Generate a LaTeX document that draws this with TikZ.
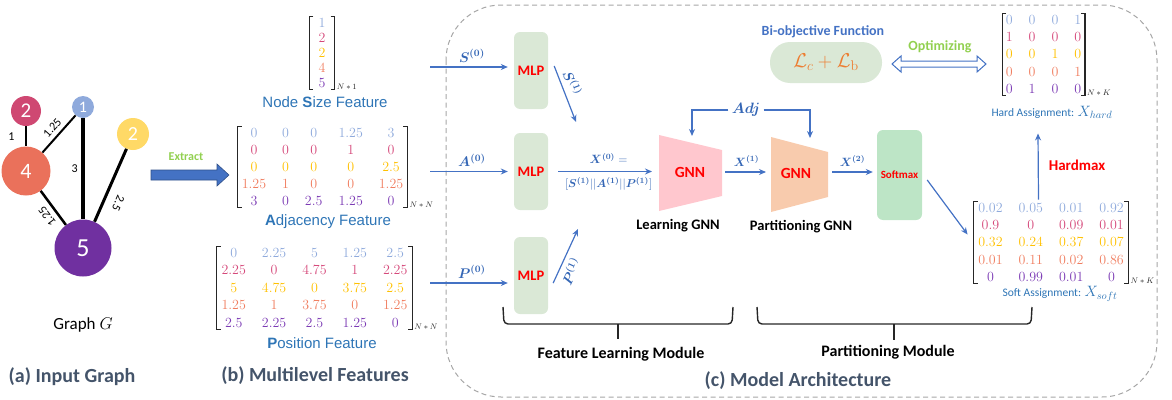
\RequirePackage{fix-cm}
\documentclass[tikz,border=0pt]{standalone}
\usepackage{amsmath,bm}
\usepackage{fontspec}
\setsansfont{Carlito}
\newfontfamily\arialf{Liberation Sans}
\renewcommand{\familydefault}{\sfdefault}
\usetikzlibrary{matrix,arrows.meta,calc}

\definecolor{cLav}{HTML}{8FAADC}
\definecolor{cMag}{HTML}{D5487A}
\definecolor{cYel}{HTML}{FFC000}
\definecolor{cOra}{HTML}{F07D5F}
\definecolor{cPur}{HTML}{7B3AB4}
\definecolor{nMag}{HTML}{CF4872}
\definecolor{nYel}{HTML}{FFD966}
\definecolor{nOra}{HTML}{EA715B}
\definecolor{nPur}{HTML}{7030A0}
\definecolor{cBlue}{HTML}{4472C4}
\definecolor{cLbl}{HTML}{3466B5}
\definecolor{cFeat}{HTML}{2E75B6}
\definecolor{cCap}{HTML}{44546A}
\definecolor{cGreenTxt}{HTML}{92D050}
\definecolor{cMLP}{HTML}{DAE8D6}
\definecolor{cSoft}{HTML}{BDE5C6}
\definecolor{cPink}{HTML}{FFC7CE}
\definecolor{cPeach}{HTML}{F8CBAD}
\definecolor{cRed}{HTML}{FF0000}
\definecolor{cLoss}{HTML}{ED7D31}
\definecolor{cFrame}{HTML}{A6A6A6}
\definecolor{cInk}{HTML}{262626}

\newcommand{\fsz}[1]{\fontsize{#1}{#1}\selectfont}
\newcommand{\matbrackets}[1]{%
  \draw[brk] ($(#1.north west)+(4,0)$) -- (#1.north west) -- (#1.south west) -- ++(4,0);
  \draw[brk] ($(#1.north east)+(-4,0)$) -- (#1.north east) -- (#1.south east) -- ++(-4,0);}

\tikzset{
  arr/.style={cBlue, line width=1.2pt, -{Stealth[length=7pt,width=6pt]}},
  lbl/.style={text=cLbl, font=\fsz{14}},
  gnode/.style={circle, inner sep=0pt, text=white, font=\fsz{20}},
  elbl/.style={font=\fsz{12}, inner sep=2pt},
  mat/.style={matrix of math nodes, inner xsep=4pt, inner ysep=1.5pt,
    column sep=16pt, row sep=7.5pt,
    nodes={inner sep=0pt, text height=9pt, text depth=0.5pt, font=\fsz{14}},
    row 1/.style={nodes={text=cLav}}, row 2/.style={nodes={text=cMag}},
    row 3/.style={nodes={text=cYel}}, row 4/.style={nodes={text=cOra}},
    row 5/.style={nodes={text=cPur}}},
  brk/.style={cInk, line width=1.2pt},
  subtxt/.style={anchor=base west, font=\fsz{8}, inner sep=0pt, text=cInk},
  feat/.style={text=cFeat, font=\arialf\fsz{15}},
  captxt/.style={text=cCap, font=\bfseries\fsz{20}},
  modl/.style={font=\bfseries\fsz{16}, text=black},
  mlp/.style={fill=cMLP, rounded corners=6pt, minimum width=34pt, minimum height=77pt,
    text=cRed, font=\bfseries\fsz{14.5}},
  gnntxt/.style={text=cRed, font=\bfseries\fsz{15.5}},
  brc/.style={cInk, line width=1.4pt, rounded corners=4pt},
}

\begin{document}
\begin{tikzpicture}[x=1pt,y=-1pt]
\useasboundingbox (0,0) rectangle (1172,399);

% ---------- (a) input graph ----------
\node[gnode, fill=nMag, minimum size=30pt, font=\fsz{21}] (g2) at (26,111) {2};
\node[gnode, fill=cLav, minimum size=22pt, font=\fsz{16}] (g1) at (83,107) {1};
\node[gnode, fill=nYel, minimum size=32pt, font=\fsz{20}] (g3) at (133,134) {2};
\node[gnode, fill=nOra, minimum size=49pt, font=\fsz{22}] (g4) at (26,171) {4};
\node[gnode, fill=nPur, minimum size=57pt, font=\fsz{26}] (g5) at (83,248) {5};

\draw[line width=1.2pt] (g2) -- node[elbl, left=9pt] {1} (g4);
\draw[line width=2pt] (g4) -- node[elbl, sloped, above=2pt, pos=0.5] {1.25} (g1);
\draw[line width=4.5pt] (g1) -- node[elbl, left=1pt] {3} (g5);
\draw[line width=3pt] (g3) -- node[elbl, sloped, allow upside down, above=7pt, pos=0.67] {2.5} (g5);
\draw[line width=2.5pt] (g5) -- node[elbl, sloped, allow upside down, above=3pt, pos=0.42] {1.25} (g4);

\node[font=\fsz{17}] (gname) at (83,325) {Graph $G$};
\node[captxt] (capa) at (72,377) {(a) Input Graph};

% extract arrow
\fill[cBlue, draw=cBlue!70!black, line width=0.6pt]
  (151,170) -- (217,170) -- (217,164) -- (229,175) -- (217,186) -- (217,180) -- (151,180) -- cycle;
\node[text=cGreenTxt, font=\bfseries\fsz{12}] (extr) at (186,157) {Extract};

% ---------- (b) multilevel features ----------
\matrix (vs) [mat, inner xsep=9pt, row sep=5.5pt] at (322,53) {
1\\ 2\\ 2\\ 4\\ 5\\};
\matbrackets{vs}
\node[subtxt] at ($(vs.south east)+(2,0)$) {$N*1$};
\node[feat] (vsl) at (325,102) {Node \textbf{S}ize Feature};

\matrix (adj) [mat] at (322.5,167) {
0 & 0 & 0 & 1.25 & 3\\
0 & 0 & 0 & 1 & 0\\
0 & 0 & 0 & 0 & 2.5\\
1.25 & 1 & 0 & 0 & 1.25\\
3 & 0 & 2.5 & 1.25 & 0\\};
\matbrackets{adj}
\node[subtxt] at ($(adj.south east)+(2,0)$) {$N*N$};
\node[feat] (adjl) at (328,222) {\textbf{A}djacency Feature};

\matrix (pos) [mat, row sep=8pt, inner xsep=4.5pt] at (314.5,288) {
0 & 2.25 & 5 & 1.25 & 2.5\\
2.25 & 0 & 4.75 & 1 & 2.25\\
5 & 4.75 & 0 & 3.75 & 2.5\\
1.25 & 1 & 3.75 & 0 & 1.25\\
2.5 & 2.25 & 2.5 & 1.25 & 0\\};
\matbrackets{pos}
\node[subtxt] at ($(pos.south east)+(2,0)$) {$N*N$};
\node[feat] (posl) at (322,343) {\textbf{P}osition Feature};

\node[captxt] (capb) at (315,376) {(b) Multilevel Features};

% ---------- (c) model architecture ----------
\draw[cFrame, line width=1pt, dash pattern=on 5pt off 3.5pt, rounded corners=55pt]
  (446,5) rectangle (1157,397);

\node[mlp] (m1) at (531,70.5) {MLP};
\node[mlp] (m2) at (531,171.5) {MLP};
\node[mlp] (m3) at (531,275.5) {MLP};

\coordinate (s0) at (430,67);
\coordinate (a0) at (430,171.5);
\coordinate (p0) at (430,283);
\draw[arr, shorten >=6pt] (s0) -- node[lbl, above=1pt] {$\bm{S^{(0)}}$} (s0 -| m1.west);
\draw[arr, shorten >=6pt] (a0) -- node[lbl, above=1pt] {$\bm{A^{(0)}}$} (a0 -| m2.west);
\draw[arr, shorten >=6pt] (p0) -- node[lbl, above=1pt] {$\bm{P^{(0)}}$} (p0 -| m3.west);

\coordinate (s1end) at (576,122);
\coordinate (p1end) at (578,229);
\draw[arr] ($(m1.east)+(6,-4.5)$) -- node[lbl, sloped, above=1pt, pos=0.38] {$\bm{S^{(1)}}$} (s1end);
\draw[arr] ($(m3.east)+(5,7.5)$) -- node[lbl, sloped, below=1pt, pos=0.3] {$\bm{P^{(1)}}$} (p1end);

% learning GNN
\fill[cPink] (659,135) -- (722,150) -- (722,196) -- (659,211) -- cycle;
\node[gnntxt] (lg) at (690,172) {GNN};
\node[modl, font=\bfseries\fsz{14.5}] (lgl) at (678,226) {Learning GNN};
\coordinate (lgw) at (659,171.5);
\coordinate (lge) at (722,172);
\coordinate (lgtop) at (692,136);

\draw[arr, shorten >=7pt] ($(m2.east)+(10,0)$) --
  node[lbl, above=4pt, font=\fsz{12}] {$\bm{X^{(0)}}=$}
  node[lbl, below=2pt, font=\fsz{11.5}] {$[\bm{S^{(1)}}||\bm{A^{(1)}}||\bm{P^{(1)}}]$} (lgw);

% partitioning GNN
\fill[cPeach] (771,137) -- (828,152) -- (828,197) -- (771,212) -- cycle;
\node[gnntxt] (pg) at (796,173) {GNN};
\node[modl, font=\bfseries\fsz{14.5}] (pgl) at (801,227) {Partitioning GNN};
\coordinate (pgw) at (771,172);
\coordinate (pge) at (828,172);
\coordinate (pgtop) at (810,138);

\draw[arr, shorten <=3pt, shorten >=5pt] (lge) -- node[lbl, above=2pt, font=\fsz{12}] {$\bm{X^{(1)}}$} (pgw);

% adjacency input to both GNNs
\node[lbl, font=\fsz{15}] (adjin) at (746,110) {$\bm{Adj}$};
\draw[arr] (adjin.west) -| (lgtop);
\draw[arr] (adjin.east) -| (pgtop);

% softmax
\node[fill=cSoft, rounded corners=6pt, minimum width=45pt, minimum height=90pt,
      text=cRed, font=\bfseries\fsz{11}] (sm) at (899.5,175) {Softmax};
\draw[arr, shorten <=4pt, shorten >=4pt] (pge) -- node[lbl, above=2pt, font=\fsz{12}] {$\bm{X^{(2)}}$} (sm.west |- pge);

% objective
\node[text=cBlue, font=\bfseries\fsz{14}] (objl) at (823,32) {Bi-objective Function};
\node[fill=cMLP, rounded corners=20pt, minimum width=112pt, minimum height=41pt,
      text=cLoss, font=\fsz{20}] (obj) at (826,62.5) {$\mathcal{L}_c+\mathcal{L}_{\mathrm{b}}$};
\node[text=cGreenTxt, font=\bfseries\fsz{14}] (optl) at (940,47) {Optimizing};
\draw[cBlue, line width=1pt, fill=white]
  (892,64) -- (901,56) -- (901,61) -- (977,61) -- (977,56) -- (986,64)
  -- (977,72) -- (977,67) -- (901,67) -- (901,72) -- cycle;

% hard assignment
\matrix (hard) [mat, row sep=7.75pt, inner xsep=3.5pt] at (1043.5,54.5) {
0 & 0 & 0 & 1\\
1 & 0 & 0 & 0\\
0 & 0 & 1 & 0\\
0 & 0 & 0 & 1\\
0 & 1 & 0 & 0\\};
\matbrackets{hard}
\node[subtxt] at ($(hard.south east)+(2,0)$) {$N*K$};
\node[text=cFeat, font=\fsz{11.5}] (hardl) at (1052,112) {Hard Assignment: {\fsz{15}$X_{hard}$}};

% soft assignment
\matrix (soft) [mat, row sep=7.75pt, inner xsep=4.5pt] at (1051,242.5) {
0.02 & 0.05 & 0.01 & 0.92\\
0.9 & 0 & 0.09 & 0.01\\
0.32 & 0.24 & 0.37 & 0.07\\
0.01 & 0.11 & 0.02 & 0.86\\
0 & 0.99 & 0.01 & 0\\};
\matbrackets{soft}
\node[subtxt] at ($(soft.south east)+(2,0)$) {$N*K$};
\node[text=cFeat, font=\fsz{11.5}] (softl) at (1060,294) {Soft Assignment: {\fsz{15}$X_{soft}$}};

\draw[arr] ($(sm.east)+(5,5)$) -- ($(soft.west)+(-6,-8)$);
\draw[arr] ($(soft.north)+(-12.5,-2)$) -- ($(hard.south)+(-5.5,38)$);
\node[text=cRed, font=\bfseries\fsz{15}] (hm) at (1077,165) {Hardmax};

% module braces
\draw[brc] (503,307) -- (504,324) -- (732,324) -- (733,307);
\draw[brc] (618,324) -- (618,339);
\node[modl] (flm) at (621,354) {Feature Learning Module};
\draw[brc] (757,307) -- (758,324) -- (1031,324) -- (1032,307);
\draw[brc] (894,324) -- (894,340);
\node[modl] (pm) at (888,352) {Partitioning Module};

\node[captxt] (capc) at (798,381) {(c) Model Architecture};
\end{tikzpicture}
\end{document}
